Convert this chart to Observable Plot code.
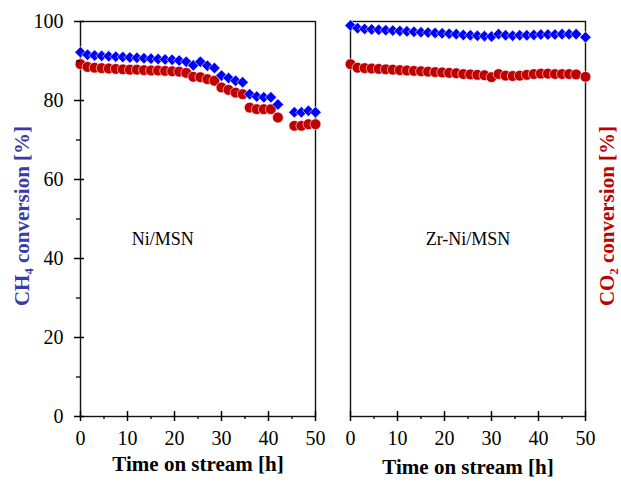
<!DOCTYPE html>
<html><head><meta charset="utf-8">
<script src="https://cdn.jsdelivr.net/npm/d3@7"></script>
<script src="https://cdn.jsdelivr.net/npm/@observablehq/plot@0.6"></script>
<style>
body{margin:0;background:#fff;}
#wrap{position:relative;width:621px;height:485px;overflow:hidden;}
#wrap svg{position:absolute;top:0;}
</style></head><body><div id="wrap"></div>
<script>
// ---- data ----
const timeNi = [0,1.5,3,4.5,6,7.5,9,10.5,12,13.5,15,16.5,18,19.5,21,22.5,24,25.5,27,28.5,30,31.5,33,34.5,36,37.5,39,40.5,42,45.5,47,48.5,50];
const ch4Ni  = [92.2,91.6,91.4,91.3,91.2,91.1,91.0,90.9,90.8,90.7,90.6,90.5,90.4,90.3,90.1,89.8,88.9,89.8,88.8,88.2,86.3,85.7,85.0,84.6,81.6,81.0,80.8,80.8,79.0,77.0,77.0,77.4,77.0];
const co2Ni  = [89.2,88.5,88.3,88.2,88.1,88.0,87.9,87.8,87.8,87.7,87.6,87.6,87.5,87.4,87.3,87.0,86.0,85.9,85.4,85.0,83.3,82.7,82.0,81.6,78.2,77.8,77.8,77.8,75.7,73.6,73.6,74.0,74.0];
const timeZr = [0,1.5,3,4.5,6,7.5,9,10.5,12,13.5,15,16.5,18,19.5,21,22.5,24,25.5,27,28.5,30,31.5,33,34.5,36,37.5,39,40.5,42,43.5,45,46.5,48,50];
const ch4Zr  = [99.0,98.3,98.1,98.0,97.9,97.8,97.7,97.6,97.5,97.4,97.3,97.2,97.1,97.0,96.9,96.8,96.6,96.5,96.4,96.3,96.2,96.8,96.5,96.4,96.5,96.5,96.6,96.7,96.7,96.7,96.8,96.8,96.8,96.0];
const co2Zr  = [89.2,88.3,88.2,88.1,88.0,87.9,87.8,87.7,87.6,87.5,87.4,87.3,87.2,87.1,87.0,86.9,86.7,86.6,86.5,86.4,85.9,86.7,86.3,86.2,86.3,86.5,86.7,86.8,86.8,86.7,86.7,86.7,86.6,86.0];
const yTicks = [0,20,40,60,80,100];
const yMinor = [10,30,50,70,90];
const xTicks = [0,10,20,30,40,50];
const xMinor = [5,15,25,35,45];
const panelNames = ["Ni/MSN","Zr-Ni/MSN"];
const panelNameX = [17.5, 25];
const xLabel = "Time on stream [h]";
const ch4Label = "CH₄ conversion [%]";
const co2Label = "CO₂ conversion [%]";

const font = "'Liberation Serif','Times New Roman',serif";
const blank = () => "";

function panel({times, ch4, co2, name, nameX, width, marginLeft, marginRight, showY, side, xlabDy}) {
  const ch4Data = times.map((t,i)=>({t, v: ch4[i]}));
  const co2Data = times.map((t,i)=>({t, v: co2[i]}));
  const marks = [
    Plot.frame({stroke:"#111", strokeWidth:1.4}),
    Plot.axisX(xTicks, {tickSize:10, dy:-5, tickFormat: blank, label:null, strokeWidth:1.5, stroke:"#000"}),
    Plot.axisX(xMinor, {tickSize:3, tickFormat: blank, label:null, strokeWidth:1.3, stroke:"#000"}),
    Plot.axisX(xTicks, {tickSize:0, tickPadding:14, fontSize:20, label:null, fill:"#000"}),
    Plot.dot(co2Data, {x:"t", y:"v", r:5.4, fill:"#c00000", stroke:"white", strokeWidth:0.6}),
    Plot.dot(ch4Data, {x:"t", y:"v", symbol:"square", rotate:45, r:4.6, fill:"#0000ff", stroke:"white", strokeWidth:0.6}),
    Plot.text([name], {x:nameX, y:45, fontSize:18, fill:"#000"}),
    Plot.text([xLabel], {frameAnchor:"bottom", dy:xlabDy, fontSize:21, fontWeight:"bold", fill:"#000"})
  ];
  if (showY) {
    marks.push(
      Plot.axisY(yTicks, {tickSize:10, dx:4, tickFormat: blank, label:null, strokeWidth:1.5, stroke:"#000"}),
      Plot.axisY(yMinor, {tickSize:4, tickFormat: blank, label:null, strokeWidth:1.3, stroke:"#000"}),
      Plot.axisY(yTicks, {tickSize:0, tickPadding:17, fontSize:20, label:null, fill:"#000"}),
      Plot.text([ch4Label], {frameAnchor:"left", textAnchor:"middle", dx:-58, dy:-3, rotate:-90, fontSize:21, fontWeight:"bold", fill:"#3a3aaa"})
    );
  }
  if (side) {
    marks.push(
      Plot.text([co2Label], {frameAnchor:"right", textAnchor:"middle", dx:22, dy:-3, rotate:-90, fontSize:21, fontWeight:"bold", fill:"#c00000"})
    );
  }
  return Plot.plot({
    width, height:485,
    marginLeft, marginRight, marginTop:21, marginBottom:69,
    style:{fontFamily:font, background:"transparent", overflow:"visible"},
    x:{domain:[0,50], axis:null},
    y:{domain:[0,100], axis:null},
    marks
  });
}

const wrap = document.getElementById("wrap");
const left = panel({times:timeNi, ch4:ch4Ni, co2:co2Ni, name:panelNames[0], nameX:panelNameX[0], width:332, marginLeft:80, marginRight:17, showY:true, side:false, xlabDy:54});
left.style.left = "0px";
const right = panel({times:timeZr, ch4:ch4Zr, co2:co2Zr, name:panelNames[1], nameX:panelNameX[1], width:289, marginLeft:18, marginRight:36, showY:false, side:true, xlabDy:57});
right.style.left = "332px";
wrap.appendChild(left);
wrap.appendChild(right);
</script></body></html>
